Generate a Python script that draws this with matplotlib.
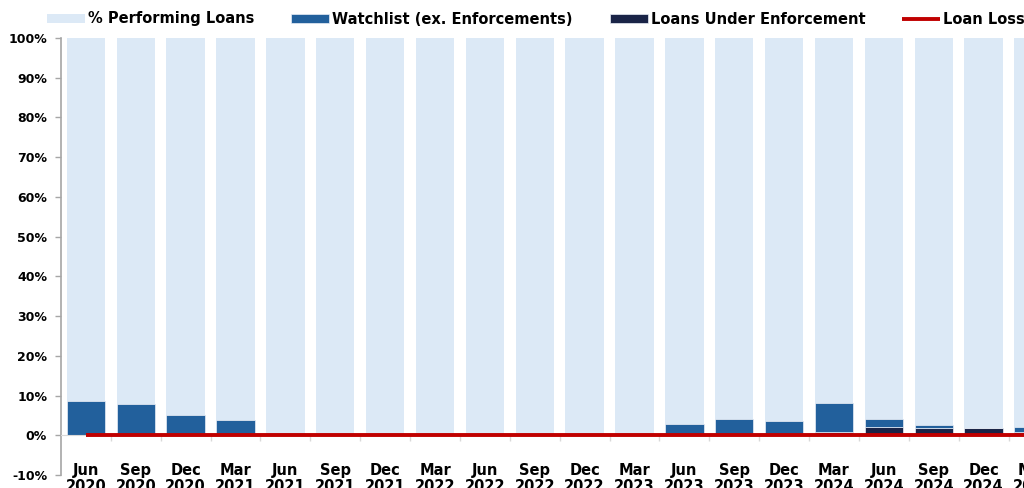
import numpy as np
import matplotlib.pyplot as plt
from matplotlib.ticker import FixedLocator, FuncFormatter

# ───────── Data ──────────────────────────────────────────────────────
quarters = ["Jun\n2020", "Sep\n2020", "Dec\n2020", "Mar\n2021", "Jun\n2021",
            "Sep\n2021", "Dec\n2021", "Mar\n2022", "Jun\n2022", "Sep\n2022",
            "Dec\n2022", "Mar\n2023", "Jun\n2023", "Sep\n2023", "Dec\n2023",
            "Mar\n2024", "Jun\n2024", "Sep\n2024", "Dec\n2024", "Mar\n2025"]
watchlist   = [8.6, 7.8, 5.1, 3.9, 0.6, 0.0, 0.0, 0.0, 0.0, 0.0,
               0.0, 0.5, 2.9, 4.2, 3.6, 7.3, 2.1, 0.75, 0.0, 1.2]
enforcement = [0.0, 0.0, 0.0, 0.0, 0.0, 0.0, 0.0, 0.0, 0.0, 0.0,
               0.0, 0.0, 0.0, 0.0, 0.0, 0.8, 2.1, 1.85, 1.75, 0.8]
loan_losses = [0.0] * len(quarters)
performing  = [100 - w - e for w, e in zip(watchlist, enforcement)]

# ───────── Style ─────────────────────────────────────────────────────
C_PERF  = '#DCE9F6'
C_WATCH = '#22609C'
C_ENF   = '#1A2447'
C_LOSS  = '#C00000'
C_AXIS  = '#A6A6A6'
FS      = 10.5
FS_Y    = 9

plt.rcParams['font.family'] = ['DejaVu Sans']
plt.rcParams['font.weight'] = 'bold'

fig = plt.figure(figsize=(10.24, 4.88), dpi=100)
n = len(quarters)
px_w = 49.87 * n
ax = fig.add_axes([61 / 1024, 13 / 488, px_w / 1024, 437 / 488])

x = np.arange(n)
width = 0.77
b_enf = ax.bar(x, enforcement, width, color=C_ENF, edgecolor='#E8EEF6',
               linewidth=0.5, zorder=2)
b_watch = ax.bar(x, watchlist, width, bottom=enforcement, color=C_WATCH,
                 edgecolor='#E8EEF6', linewidth=0.5, zorder=2)
b_perf = ax.bar(x, performing, width, bottom=np.add(watchlist, enforcement),
                color=C_PERF, edgecolor='none', zorder=1)
l_loss, = ax.plot(x, loan_losses, color=C_LOSS, lw=2.8, zorder=4,
                  solid_capstyle='butt')

ax.set_xlim(-0.5, n - 0.5)
ax.set_ylim(-10, 100)
ax.yaxis.set_major_locator(FixedLocator(np.arange(-10, 101, 10)))
ax.yaxis.set_major_formatter(FuncFormatter(lambda v, _: f'{int(round(v))}%'))

for s in ['top', 'right']:
    ax.spines[s].set_visible(False)
ax.spines['left'].set_color(C_AXIS)
ax.spines['left'].set_linewidth(1.2)
ax.spines['bottom'].set_position(('data', 0))
ax.spines['bottom'].set_color('#D9D9D9')
ax.spines['bottom'].set_zorder(3)

ax.set_xticks(x)
ax.set_xticklabels(quarters, fontsize=FS, fontweight='bold', linespacing=1.05)
ax.set_xticks(np.arange(n - 1) + 0.5, minor=True)
ax.tick_params(axis='x', which='major', length=0, pad=20)
ax.tick_params(axis='x', which='minor', length=4, color='#D9D9D9', width=1)
ax.tick_params(axis='y', length=4, color=C_AXIS, width=1, labelsize=FS_Y, pad=6)
for lab in ax.get_yticklabels():
    lab.set_fontweight('bold')

fig.legend([b_perf, b_watch, b_enf, l_loss],
           ['% Performing Loans', 'Watchlist (ex. Enforcements)',
            'Loans Under Enforcement', 'Loan Losses'],
           loc='center left', bbox_to_anchor=(41 / 1024, 1 - 19 / 488), ncol=4,
           frameon=False, fontsize=FS, handlelength=2.6, handleheight=0.6,
           handletextpad=0.2, columnspacing=2.55, borderaxespad=0)

fig.savefig('out.png', dpi=100)
